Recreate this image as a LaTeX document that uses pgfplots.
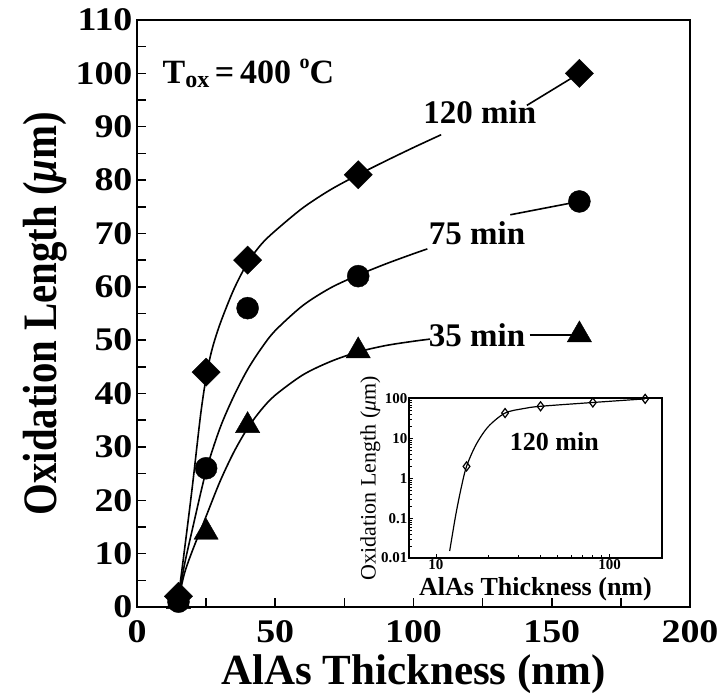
\documentclass[border=0pt]{standalone}
\usepackage{pgfplots}
\pgfplotsset{compat=1.18}
\usepackage{fontspec}
\setmainfont{Liberation Serif}
\newfontfamily\tickfont[FakeStretch=1.15]{Liberation Serif}
\newfontfamily\ylabfont[FakeStretch=0.85]{Liberation Serif}
\begin{document}
\begin{tikzpicture}
\begin{axis}[
  name=main,
  at={(0pt,0pt)}, anchor=south west,
  scale only axis, width=553pt, height=587pt,
  xmin=0, xmax=200, ymin=0, ymax=110,
  xtick={0,50,...,200}, minor xtick={25,75,125,175},
  ytick={0,10,...,110}, minor ytick={5,15,...,105},
  tick align=inside, xtick pos=left, ytick pos=left,
  major tick length=9pt, minor tick length=9pt,
  axis line style={line width=2.5pt},
  every tick/.style={line width=1.5pt, black},
  /pgf/number format/assume math mode=true,
  ticklabel style={font=\tickfont\bfseries\fontsize{33}{36}\selectfont},
  xticklabel style={yshift=-10pt},
  yticklabel style={xshift=-1pt},
  xlabel={AlAs Thickness (nm)},
  xlabel style={font=\bfseries\fontsize{43}{46}\selectfont, yshift=-5pt},
  ylabel={Oxidation Length (\textit{μ}m)},
  ylabel style={font=\ylabfont\bfseries\fontsize{48}{52}\selectfont, yshift=2pt},
  clip=false,
]
% fitted curves
\addplot[black, line width=1.6pt, smooth] coordinates {
(14.5,0) (17,10) (20,22.5) (23,36) (25,43) (27,48) (30,53) (35,59.5) (40,64.5)
(45,68) (50,70.5) (60,74.8) (70,78.2) (80,81) (90,83.6) (100,86.1) (110,88.5)};
\addplot[black, line width=1.6pt, smooth] coordinates {
(14.5,0) (17,7.5) (20,14.5) (25,25.5) (30,33.5) (35,39.5) (40,44.5) (45,48.5)
(50,51.8) (60,56.5) (70,59.8) (80,62.2) (90,64.3) (100,66.2) (105,67.1)};
\addplot[black, line width=1.6pt, smooth] coordinates {
(14.5,0) (17,6) (20,10.5) (25,17) (30,23.5) (35,29) (40,33.5) (45,37) (50,39.7)
(60,43.5) (70,46) (80,47.8) (90,49) (100,49.8) (106,50.2)};
% leader lines
\addplot[black, line width=1.6pt] coordinates {(141,94) (160,100)};
\addplot[black, line width=1.6pt] coordinates {(135,73.5) (160,76)};
\addplot[black, line width=1.6pt] coordinates {(142,51) (160,51)};
% data markers
\addplot[only marks, mark=square*, mark size=10pt, mark options={rotate=45, fill=black}] coordinates {
(15,2) (25,44) (40,65) (80,81) (160,100)};
\addplot[only marks, mark=*, mark size=11pt, mark options={fill=black}] coordinates {
(15,1) (25,26) (40,56) (80,62) (160,76)};
\addplot[only marks, mark=triangle*, mark size=14pt, mark options={fill=black}] coordinates {
(15,1) (25,14) (40,34) (80,48) (160,51)};
% labels
\node[font=\bfseries\fontsize{33}{36}\selectfont] at (axis cs:124,92.8) {120 min};
\node[font=\bfseries\fontsize{33}{36}\selectfont] at (axis cs:123,70) {75 min};
\node[font=\bfseries\fontsize{33}{36}\selectfont] at (axis cs:123,51) {35 min};
\node[font=\bfseries\fontsize{34}{36}\selectfont, anchor=west] at (axis cs:8,100)
 {T\raisebox{-0.12em}{\fontsize{24}{24}\selectfont ox}\,=\,400 \raisebox{0.45em}{\fontsize{20}{20}\selectfont o}C};
\end{axis}
\begin{axis}[
  at={(272pt,49pt)}, anchor=south west,
  scale only axis, width=253pt, height=160pt,
  xmode=log, ymode=log,
  xmin=7, xmax=200, ymin=0.01, ymax=105,
  xtick={10,100}, xticklabels={10,100},
  ytick={0.01,0.1,1,10,100}, yticklabels={0.01,0.1,1,10,100},
  tick align=inside, xtick pos=left, ytick pos=left,
  axis line style={line width=1.2pt},
  every tick/.style={line width=0.8pt, black},
  /pgf/number format/assume math mode=true,
  ticklabel style={font=\bfseries\fontsize{15}{16}\selectfont},
  xticklabel style={yshift=2pt},
  yticklabel style={xshift=2pt},
  xlabel={AlAs Thickness (nm)},
  xlabel style={font=\bfseries\fontsize{26}{28}\selectfont, yshift=-1pt},
  ylabel={Oxidation Length (\textit{μ}m)},
  ylabel style={font=\fontsize{22}{24}\selectfont, yshift=-6pt},
]
\addplot[black, line width=1.2pt, smooth] coordinates {
(12,0.015) (13,0.12) (14,0.6) (15,2) (17,7) (20,20) (25,44) (32,57) (40,65) (80,81) (160,100)};
\addplot[only marks, mark=diamond, mark size=4.5pt, mark options={line width=1.2pt, black}] coordinates {
(15,2) (25,44) (40,65) (80,81) (160,100)};
\node[font=\bfseries\fontsize{26}{28}\selectfont] at (axis cs:48,8.3) {120 min};
\end{axis}
\pgfresetboundingbox
\useasboundingbox (-137pt,-89pt) rectangle (586pt,607pt);
\end{tikzpicture}
\end{document}
